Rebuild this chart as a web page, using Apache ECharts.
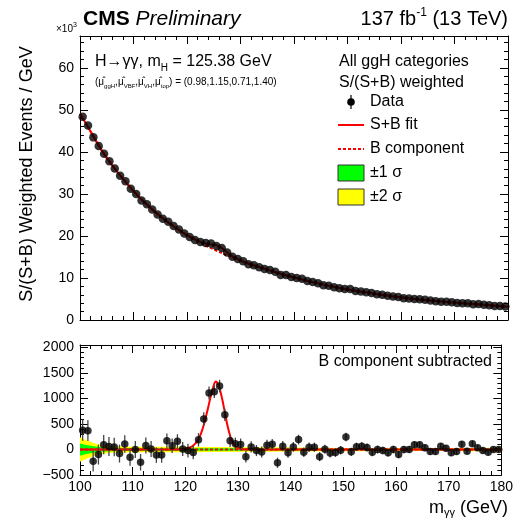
<!DOCTYPE html>
<html><head><meta charset="utf-8">
<script src="https://cdn.jsdelivr.net/npm/echarts@6/dist/echarts.min.js"></script>
<style>html,body{margin:0;padding:0;background:#fff}#c{width:516px;height:520px}</style>
</head><body><div id="c"></div>
<script>
const FONT = '"Liberation Sans", Arial, Helvetica, sans-serif';

// ---- data (mass in GeV; top panel in units of 10^3 events/GeV) ----
const binCenters = [100.5,101.5,102.5,103.5,104.5,105.5,106.5,107.5,108.5,109.5,
 110.5,111.5,112.5,113.5,114.5,115.5,116.5,117.5,118.5,119.5,
 120.5,121.5,122.5,123.5,124.5,125.5,126.5,127.5,128.5,129.5,
 130.5,131.5,132.5,133.5,134.5,135.5,136.5,137.5,138.5,139.5,
 140.5,141.5,142.5,143.5,144.5,145.5,146.5,147.5,148.5,149.5,
 150.5,151.5,152.5,153.5,154.5,155.5,156.5,157.5,158.5,159.5,
 160.5,161.5,162.5,163.5,164.5,165.5,166.5,167.5,168.5,169.5,
 170.5,171.5,172.5,173.5,174.5,175.5,176.5,177.5,178.5,179.5];
const topData = [48.38,46.27,43.47,41.40,39.60,37.76,36.05,34.32,33.01,31.25,
 30.00,28.45,27.58,26.31,25.09,24.09,23.37,22.38,21.56,20.61,
 19.78,19.04,18.59,18.30,18.21,17.64,17.15,16.08,15.07,14.52,
 14.00,13.26,13.05,12.58,12.15,11.89,11.51,10.74,10.71,10.23,
 10.01,9.83,9.27,9.06,8.77,8.29,8.17,7.82,7.58,7.38,
 7.40,6.91,6.81,6.62,6.40,6.13,6.00,5.80,5.58,5.47,
 5.20,5.14,4.99,4.95,4.83,4.66,4.47,4.36,4.37,4.23,
 4.04,3.96,4.01,3.77,3.82,3.65,3.49,3.36,3.31,3.22];
const residuals = [380,370,-230,-100,95,60,50,-80,110,-150,
 0,-250,80,10,-110,-110,170,75,160,10,
 -20,-60,190,600,1110,1135,1245,680,170,115,
 100,-140,50,-20,-50,85,105,-260,65,-65,
 50,195,-55,45,45,-140,5,-70,-60,-15,
 245,-45,55,65,40,-55,0,-20,-65,0,
 -100,0,0,95,95,35,-40,-40,65,25,
 -65,-40,105,-35,115,35,-20,-55,0,0];
const resErrors = [210,205,200,195,190,185,180,176,172,168,
 165,161,158,155,152,149,146,143,140,137,
 135,133,131,129,127,125,123,121,119,117,
 115,113,111,109,107,105,103,101,100,98,
 96,95,93,92,90,89,88,86,85,84,
 82,81,80,79,78,77,76,75,74,73,
 72,71,70,69,68,67,66,65,64,63,
 62,61,60,60,59,58,58,57,56,56];
const bkgX = [100,101,102,103,104,105,106,107,108,109,110,111,112,113,114,115,116,117,118,119,
 120,121,122,123,124,125,126,127,128,129,130,131,132,133,134,135,136,137,138,139,
 140,141,142,143,144,145,146,147,148,149,150,151,152,153,154,155,156,157,158,159,
 160,161,162,163,164,165,166,167,168,169,170,171,172,173,174,175,176,177,178,179,180];
const bkgFit = [49.1,47.0,44.8,42.6,40.5,38.6,36.85,35.2,33.65,32.15,
 30.7,29.35,28.1,26.9,25.75,24.7,23.7,22.75,21.85,21.0,
 20.2,19.45,18.75,18.05,17.4,16.8,16.2,15.65,15.15,14.65,
 14.15,13.65,13.2,12.8,12.4,12.0,11.6,11.2,10.82,10.47,
 10.12,9.8,9.48,9.17,8.87,8.58,8.3,8.03,7.77,7.52,
 7.27,7.05,6.85,6.65,6.46,6.27,6.09,5.91,5.73,5.56,
 5.39,5.22,5.07,4.92,4.79,4.68,4.57,4.46,4.35,4.25,
 4.15,4.05,3.95,3.85,3.75,3.66,3.56,3.46,3.36,3.27,3.17];
const sbPeakX = [118,119,120,120.5,121,121.5,122,122.5,123,123.5,124,124.5,125,125.5,125.75,126,126.5,127,127.5,128,128.5,129,129.5,130,130.5,131,132];
const sbPeakTop = [21.85,21.0,20.22,19.85,19.50,19.18,18.88,18.60,18.37,18.20,18.08,18.00,17.92,17.79,17.69,17.52,17.12,16.64,16.13,15.62,15.17,14.79,14.47,14.18,13.91,13.65,13.2];
const sigX = [100,118,119,120,120.5,121,121.5,122,122.5,123,123.5,124,124.5,125,125.5,125.75,126,126.5,127,127.5,128,128.5,129,129.5,130,130.5,131,132,180];
const sigFit = [0,0,5,15,25,45,80,130,200,320,480,680,900,1120,1290,1335,1320,1200,990,730,470,270,140,65,28,10,3,0,0];
const bSubX = [100,180];
const bSubY = [0,0];
const bandX = [100,101,102,103,104,105,106,108,110,115,120,125,130,135,140,150,160,170,175,178,180];
const band1 = [120,95,75,58,45,38,33,30,28,27,26,25,23,21,19,16,15,15,16,18,22];
const band2 = [240,190,150,115,90,75,66,60,56,54,52,50,46,42,38,32,30,30,32,36,44];
const xTickStep = 10, topYStep = 10, botYStep = 500;

// ---- layout ----
const L = 80, W = 428;
const TOP1 = 36, H1 = 284;
const TOP2 = 345, H2 = 130;

const chart = echarts.init(document.getElementById('c'), null, {renderer: 'canvas'});

function xAxis(grid, pos, labels) {
  return {
    type: 'value', gridIndex: grid, position: pos, min: 100, max: 180, interval: xTickStep,
    axisLine: {show: true, onZero: false, lineStyle: {color: '#000', width: 1}},
    axisTick: {show: true, inside: true, length: 8, lineStyle: {color: '#000', width: 1}},
    minorTick: {show: true, splitNumber: 5, length: 4, lineStyle: {color: '#000', width: 1}},
    splitLine: {show: false},
    axisLabel: {show: labels, margin: 5, color: '#000', fontSize: 14, fontFamily: FONT}
  };
}
function yAxis(grid, pos, min, max, step, labels) {
  return {
    type: 'value', gridIndex: grid, position: pos, min: min, max: max, interval: step,
    axisLine: {show: true, onZero: false, lineStyle: {color: '#000', width: 1}},
    axisTick: {show: true, inside: true, length: 8, lineStyle: {color: '#000', width: 1}},
    minorTick: {show: true, splitNumber: 5, length: 4, lineStyle: {color: '#000', width: 1}},
    splitLine: {show: false},
    axisLabel: {show: labels, margin: 6, color: '#000', fontSize: 14, fontFamily: FONT,
      showMaxLabel: false,
      formatter: v => v < 0 ? '\u2212' + Math.abs(v) : String(v)}
  };
}

// S+B line for top panel, built from background fit and peak values
const sbTop = [];
bkgX.forEach((x, i) => { if (x < sbPeakX[0]) sbTop.push([x, bkgFit[i]]); });
sbPeakX.forEach((x, i) => sbTop.push([x, sbPeakTop[i]]));
bkgX.forEach((x, i) => { if (x > sbPeakX[sbPeakX.length - 1]) sbTop.push([x, bkgFit[i]]); });

function bandSeries(half, color, z) {
  return {
    type: 'custom', xAxisIndex: 2, yAxisIndex: 2, data: [0], z: z, clip: true, silent: true,
    renderItem: (params, api) => {
      const up = bandX.map((x, i) => api.coord([x, half[i]]));
      const lo = bandX.map((x, i) => api.coord([x, -half[i]])).reverse();
      return {type: 'polygon', shape: {points: up.concat(lo)}, style: {fill: color}};
    }
  };
}

// ---- text helpers ----
const mctx = document.createElement('canvas').getContext('2d');
function tw(text, size, weight, style) {
  mctx.font = (style || 'normal') + ' ' + (weight || 'normal') + ' ' + size + 'px ' + FONT;
  return mctx.measureText(text).width;
}
function runText(x, y, parts, alignRight) {
  let total = 0;
  parts.forEach(p => total += tw(p.t, p.s, p.w, p.st));
  let cx = alignRight ? x - total : x;
  const out = [];
  parts.forEach(p => {
    out.push({type: 'text', x: cx, y: y + (p.dy || 0), silent: true,
      style: {text: p.t, fontSize: p.s, fontFamily: FONT, fontWeight: p.w || 'normal',
        fontStyle: p.st || 'normal', fill: '#000', align: 'left', verticalAlign: 'middle'}});
    cx += tw(p.t, p.s, p.w, p.st);
  });
  return out;
}
const mu = '\u03BC\u0302';
const graphics = [].concat(
  runText(83, 19, [{t: 'CMS', s: 21, w: 'bold'}, {t: ' Preliminary', s: 21, st: 'italic'}]),
  runText(508, 19, [{t: '137 fb', s: 20}, {t: '-1', s: 12, dy: -6}, {t: ' (13 TeV)', s: 20}], true),
  runText(56, 29, [{t: '\u00D710', s: 10}, {t: '3', s: 7, dy: -4}]),
  runText(95, 62, [{t: 'H\u2192\u03B3\u03B3, m', s: 16}, {t: 'H', s: 10, dy: 6}, {t: ' = 125.38 GeV', s: 16}]),
  runText(95, 82, [{t: '(', s: 10}, {t: mu, s: 10}, {t: 'ggH', s: 6, dy: 4}, {t: ',', s: 10},
    {t: mu, s: 10}, {t: 'VBF', s: 6, dy: 4}, {t: ',', s: 10}, {t: mu, s: 10}, {t: 'VH', s: 6, dy: 4},
    {t: ',', s: 10}, {t: mu, s: 10}, {t: 'top', s: 6, dy: 4}, {t: ') = (0.98,1.15,0.71,1.40)', s: 10}]),
  runText(339, 62, [{t: 'All ggH categories', s: 16}]),
  runText(339, 83, [{t: 'S/(S+B) weighted', s: 16}]),
  runText(370, 102, [{t: 'Data', s: 16}]),
  runText(370, 125, [{t: 'S+B fit', s: 16}]),
  runText(370, 149, [{t: 'B component', s: 16}]),
  runText(370, 173, [{t: '\u00B11 \u03C3', s: 16}]),
  runText(370, 197, [{t: '\u00B12 \u03C3', s: 16}]),
  runText(492, 362, [{t: 'B component subtracted', s: 16}], true),
  runText(508, 508, [{t: 'm', s: 18}, {t: '\u03B3\u03B3', s: 11, dy: 5}, {t: ' (GeV)', s: 18}], true),
  [
    {type: 'text', x: 27, y: 174, rotation: Math.PI / 2, silent: true,
      style: {text: 'S/(S+B) Weighted Events / GeV', fontSize: 18, fontFamily: FONT, fill: '#000',
        align: 'center', verticalAlign: 'middle'}},
    {type: 'line', shape: {x1: 351, y1: 95, x2: 351, y2: 109}, style: {stroke: '#000', lineWidth: 1.2}},
    {type: 'circle', shape: {cx: 351, cy: 102, r: 3.8}, style: {fill: '#000'}},
    {type: 'line', shape: {x1: 338, y1: 125, x2: 364, y2: 125}, style: {stroke: '#ff0000', lineWidth: 2}},
    {type: 'line', shape: {x1: 338, y1: 149, x2: 364, y2: 149}, style: {stroke: '#ff0000', lineWidth: 2, lineDash: [3, 2]}},
    {type: 'rect', shape: {x: 338, y: 165, width: 26, height: 16}, style: {fill: '#00ff00', stroke: '#333', lineWidth: 1}},
    {type: 'rect', shape: {x: 338, y: 189, width: 26, height: 16}, style: {fill: '#ffff00', stroke: '#333', lineWidth: 1}}
  ]
);

const option = {
  animation: false,
  backgroundColor: '#fff',
  grid: [
    {left: L, top: TOP1, width: W, height: H1},
    {left: L, top: TOP2, width: W, height: H2}
  ],
  xAxis: [xAxis(0, 'bottom', false), xAxis(0, 'top', false), xAxis(1, 'bottom', true), xAxis(1, 'top', false)],
  yAxis: [yAxis(0, 'left', 0, 67.6, topYStep, true), yAxis(0, 'right', 0, 67.6, topYStep, false),
          yAxis(1, 'left', -500, 2050, botYStep, true), yAxis(1, 'right', -500, 2050, botYStep, false)],
  series: [
    {type: 'line', xAxisIndex: 0, yAxisIndex: 0, data: bkgX.map((x, i) => [x, bkgFit[i]]), showSymbol: false,
      lineStyle: {color: '#ff0000', width: 2, type: [3, 2]}, z: 2, silent: true},
    {type: 'line', xAxisIndex: 0, yAxisIndex: 0, data: sbTop, showSymbol: false,
      lineStyle: {color: '#ff0000', width: 2}, z: 3, silent: true},
    {type: 'scatter', xAxisIndex: 0, yAxisIndex: 0, data: binCenters.map((x, i) => [x, topData[i]]),
      symbol: 'circle', symbolSize: 8.5, itemStyle: {color: '#000'}, z: 5, silent: true},

    bandSeries(band2, '#ffff00', 1),
    bandSeries(band1, '#00ff00', 2),
    {type: 'line', xAxisIndex: 2, yAxisIndex: 2, data: bSubX.map((x, i) => [x, bSubY[i]]), showSymbol: false,
      lineStyle: {color: '#ff0000', width: 2, type: [3, 2]}, z: 3, silent: true},
    {type: 'line', xAxisIndex: 2, yAxisIndex: 2, data: sigX.map((x, i) => [x, sigFit[i]]), showSymbol: false,
      smooth: 0.3, lineStyle: {color: '#ff0000', width: 2}, z: 4, silent: true},
    {type: 'custom', xAxisIndex: 2, yAxisIndex: 2, z: 5, silent: true, clip: true,
      data: binCenters.map((x, i) => [x, residuals[i] - resErrors[i], residuals[i] + resErrors[i]]),
      encode: {x: 0, y: [1, 2]},
      renderItem: (params, api) => {
        const a = api.coord([api.value(0), api.value(1)]);
        const b = api.coord([api.value(0), api.value(2)]);
        return {type: 'line', shape: {x1: a[0], y1: a[1], x2: b[0], y2: b[1]}, style: {stroke: '#444', lineWidth: 1.3}};
      }},
    {type: 'scatter', xAxisIndex: 2, yAxisIndex: 2, data: binCenters.map((x, i) => [x, residuals[i]]),
      symbol: 'circle', symbolSize: 7.5, itemStyle: {color: '#000'}, z: 6, silent: true}
  ],
  graphic: graphics
};
chart.setOption(option);
</script>
</body></html>
